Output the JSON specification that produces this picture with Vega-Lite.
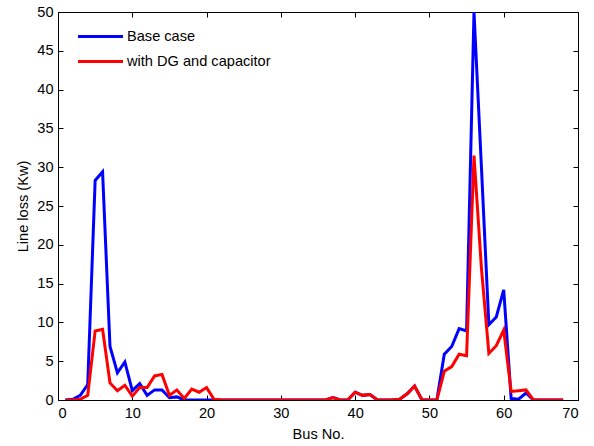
{
  "$schema": "https://vega.github.io/schema/vega-lite/v6.json",
  "width": 520,
  "height": 388,
  "autosize": {"type": "none"},
  "padding": {"left": 58, "top": 12, "right": 16, "bottom": 46},
  "background": "white",
  "config": {
    "view": {"stroke": "black", "strokeWidth": 1},
    "font": "Liberation Sans",
    "axis": {"grid": false, "domainColor": "black", "tickColor": "black", "labelColor": "black", "titleColor": "black", "labelFont": "Liberation Sans", "titleFont": "Liberation Sans", "labelFontSize": 14.6, "titleFontSize": 14.6, "titleFontWeight": "normal", "tickSize": -5, "labelPadding": 10}
  },
  "datasets": {
    "loss": [
      {"bus":1,"case":"Base case","loss":0},{"bus":2,"case":"Base case","loss":0.1},{"bus":3,"case":"Base case","loss":0.6},{"bus":4,"case":"Base case","loss":2.0},{"bus":5,"case":"Base case","loss":28.3},{"bus":6,"case":"Base case","loss":29.4},{"bus":7,"case":"Base case","loss":6.9},{"bus":8,"case":"Base case","loss":3.5},{"bus":9,"case":"Base case","loss":4.9},{"bus":10,"case":"Base case","loss":1.2},{"bus":11,"case":"Base case","loss":2.1},{"bus":12,"case":"Base case","loss":0.6},{"bus":13,"case":"Base case","loss":1.3},{"bus":14,"case":"Base case","loss":1.3},{"bus":15,"case":"Base case","loss":0.3},{"bus":16,"case":"Base case","loss":0.4},{"bus":17,"case":"Base case","loss":0},{"bus":18,"case":"Base case","loss":0},{"bus":19,"case":"Base case","loss":0},{"bus":20,"case":"Base case","loss":0},{"bus":21,"case":"Base case","loss":0},{"bus":22,"case":"Base case","loss":0},{"bus":23,"case":"Base case","loss":0},{"bus":24,"case":"Base case","loss":0},{"bus":25,"case":"Base case","loss":0},{"bus":26,"case":"Base case","loss":0},{"bus":27,"case":"Base case","loss":0},{"bus":28,"case":"Base case","loss":0},{"bus":29,"case":"Base case","loss":0},{"bus":30,"case":"Base case","loss":0},{"bus":31,"case":"Base case","loss":0},{"bus":32,"case":"Base case","loss":0},{"bus":33,"case":"Base case","loss":0},{"bus":34,"case":"Base case","loss":0},{"bus":35,"case":"Base case","loss":0},{"bus":36,"case":"Base case","loss":0},{"bus":37,"case":"Base case","loss":0.3},{"bus":38,"case":"Base case","loss":0},{"bus":39,"case":"Base case","loss":0},{"bus":40,"case":"Base case","loss":1.0},{"bus":41,"case":"Base case","loss":0.6},{"bus":42,"case":"Base case","loss":0.7},{"bus":43,"case":"Base case","loss":0},{"bus":44,"case":"Base case","loss":0},{"bus":45,"case":"Base case","loss":0},{"bus":46,"case":"Base case","loss":0.1},{"bus":47,"case":"Base case","loss":0.8},{"bus":48,"case":"Base case","loss":1.8},{"bus":49,"case":"Base case","loss":0},{"bus":50,"case":"Base case","loss":0},{"bus":51,"case":"Base case","loss":0},{"bus":52,"case":"Base case","loss":5.9},{"bus":53,"case":"Base case","loss":6.9},{"bus":54,"case":"Base case","loss":9.2},{"bus":55,"case":"Base case","loss":8.9},{"bus":56,"case":"Base case","loss":50},{"bus":57,"case":"Base case","loss":30},{"bus":58,"case":"Base case","loss":9.7},{"bus":59,"case":"Base case","loss":10.7},{"bus":60,"case":"Base case","loss":14.2},{"bus":61,"case":"Base case","loss":0.2},{"bus":62,"case":"Base case","loss":0.1},{"bus":63,"case":"Base case","loss":0.9},{"bus":64,"case":"Base case","loss":0},{"bus":65,"case":"Base case","loss":0},{"bus":66,"case":"Base case","loss":0},{"bus":67,"case":"Base case","loss":0},{"bus":68,"case":"Base case","loss":0},
      {"bus":1,"case":"with DG and capacitor","loss":0},{"bus":2,"case":"with DG and capacitor","loss":0},{"bus":3,"case":"with DG and capacitor","loss":0.1},{"bus":4,"case":"with DG and capacitor","loss":0.6},{"bus":5,"case":"with DG and capacitor","loss":8.9},{"bus":6,"case":"with DG and capacitor","loss":9.1},{"bus":7,"case":"with DG and capacitor","loss":2.2},{"bus":8,"case":"with DG and capacitor","loss":1.2},{"bus":9,"case":"with DG and capacitor","loss":1.9},{"bus":10,"case":"with DG and capacitor","loss":0.5},{"bus":11,"case":"with DG and capacitor","loss":1.6},{"bus":12,"case":"with DG and capacitor","loss":1.6},{"bus":13,"case":"with DG and capacitor","loss":3.1},{"bus":14,"case":"with DG and capacitor","loss":3.3},{"bus":15,"case":"with DG and capacitor","loss":0.6},{"bus":16,"case":"with DG and capacitor","loss":1.3},{"bus":17,"case":"with DG and capacitor","loss":0.2},{"bus":18,"case":"with DG and capacitor","loss":1.4},{"bus":19,"case":"with DG and capacitor","loss":1.0},{"bus":20,"case":"with DG and capacitor","loss":1.6},{"bus":21,"case":"with DG and capacitor","loss":0.1},{"bus":22,"case":"with DG and capacitor","loss":0},{"bus":23,"case":"with DG and capacitor","loss":0},{"bus":24,"case":"with DG and capacitor","loss":0},{"bus":25,"case":"with DG and capacitor","loss":0},{"bus":26,"case":"with DG and capacitor","loss":0},{"bus":27,"case":"with DG and capacitor","loss":0},{"bus":28,"case":"with DG and capacitor","loss":0},{"bus":29,"case":"with DG and capacitor","loss":0},{"bus":30,"case":"with DG and capacitor","loss":0},{"bus":31,"case":"with DG and capacitor","loss":0},{"bus":32,"case":"with DG and capacitor","loss":0},{"bus":33,"case":"with DG and capacitor","loss":0},{"bus":34,"case":"with DG and capacitor","loss":0},{"bus":35,"case":"with DG and capacitor","loss":0},{"bus":36,"case":"with DG and capacitor","loss":0},{"bus":37,"case":"with DG and capacitor","loss":0.3},{"bus":38,"case":"with DG and capacitor","loss":0},{"bus":39,"case":"with DG and capacitor","loss":0},{"bus":40,"case":"with DG and capacitor","loss":1.0},{"bus":41,"case":"with DG and capacitor","loss":0.6},{"bus":42,"case":"with DG and capacitor","loss":0.7},{"bus":43,"case":"with DG and capacitor","loss":0},{"bus":44,"case":"with DG and capacitor","loss":0},{"bus":45,"case":"with DG and capacitor","loss":0},{"bus":46,"case":"with DG and capacitor","loss":0.1},{"bus":47,"case":"with DG and capacitor","loss":0.8},{"bus":48,"case":"with DG and capacitor","loss":1.8},{"bus":49,"case":"with DG and capacitor","loss":0},{"bus":50,"case":"with DG and capacitor","loss":0},{"bus":51,"case":"with DG and capacitor","loss":0},{"bus":52,"case":"with DG and capacitor","loss":3.7},{"bus":53,"case":"with DG and capacitor","loss":4.3},{"bus":54,"case":"with DG and capacitor","loss":5.9},{"bus":55,"case":"with DG and capacitor","loss":5.7},{"bus":56,"case":"with DG and capacitor","loss":31.5},{"bus":57,"case":"with DG and capacitor","loss":17},{"bus":58,"case":"with DG and capacitor","loss":6.0},{"bus":59,"case":"with DG and capacitor","loss":7.0},{"bus":60,"case":"with DG and capacitor","loss":9.0},{"bus":61,"case":"with DG and capacitor","loss":1.1},{"bus":62,"case":"with DG and capacitor","loss":1.2},{"bus":63,"case":"with DG and capacitor","loss":1.3},{"bus":64,"case":"with DG and capacitor","loss":0},{"bus":65,"case":"with DG and capacitor","loss":0},{"bus":66,"case":"with DG and capacitor","loss":0},{"bus":67,"case":"with DG and capacitor","loss":0},{"bus":68,"case":"with DG and capacitor","loss":0}
    ]
  },
  "data": {"name": "loss"},
  "layer": [
    {
      "mark": {"type": "line", "strokeWidth": 3, "clip": true},
      "encoding": {
        "x": {"field": "bus", "type": "quantitative", "scale": {"domain": [0, 70], "nice": false, "zero": false}, "axis": {"values": [0,10,20,30,40,50,60,70], "title": "Bus No.", "titlePadding": 7}},
        "y": {"field": "loss", "type": "quantitative", "scale": {"domain": [0, 50], "nice": false}, "axis": {"values": [0,5,10,15,20,25,30,35,40,45,50], "title": "Line loss (Kw)", "titlePadding": 6}},
        "color": {"field": "case", "type": "nominal", "scale": {"domain": ["Base case", "with DG and capacitor"], "range": ["#0000ff", "#ff0000"]},
          "legend": {"title": null, "orient": "none", "legendX": 32, "legendY": 14, "symbolType": "M-2.5,0H2.5", "symbolSize": 324, "symbolStrokeWidth": 3, "labelFontSize": 14.6, "labelFont": "Liberation Sans", "labelColor": "black", "labelOffset": 16, "rowPadding": 7, "padding": 0, "labelLimit": 400}},
        "order": {"field": "bus", "type": "quantitative"}
      }
    },
    {
      "mark": {"type": "line", "opacity": 0},
      "encoding": {
        "x": {"field": "bus", "type": "quantitative", "scale": {"domain": [0, 70], "nice": false, "zero": false}, "axis": {"orient": "top", "values": [0,10,20,30,40,50,60,70], "labels": false, "title": null, "domain": false}},
        "y": {"field": "loss", "type": "quantitative", "scale": {"domain": [0, 50], "nice": false}, "axis": {"orient": "right", "values": [0,5,10,15,20,25,30,35,40,45,50], "labels": false, "title": null, "domain": false}}
      }
    }
  ],
  "resolve": {"axis": {"x": "independent", "y": "independent"}}
}
